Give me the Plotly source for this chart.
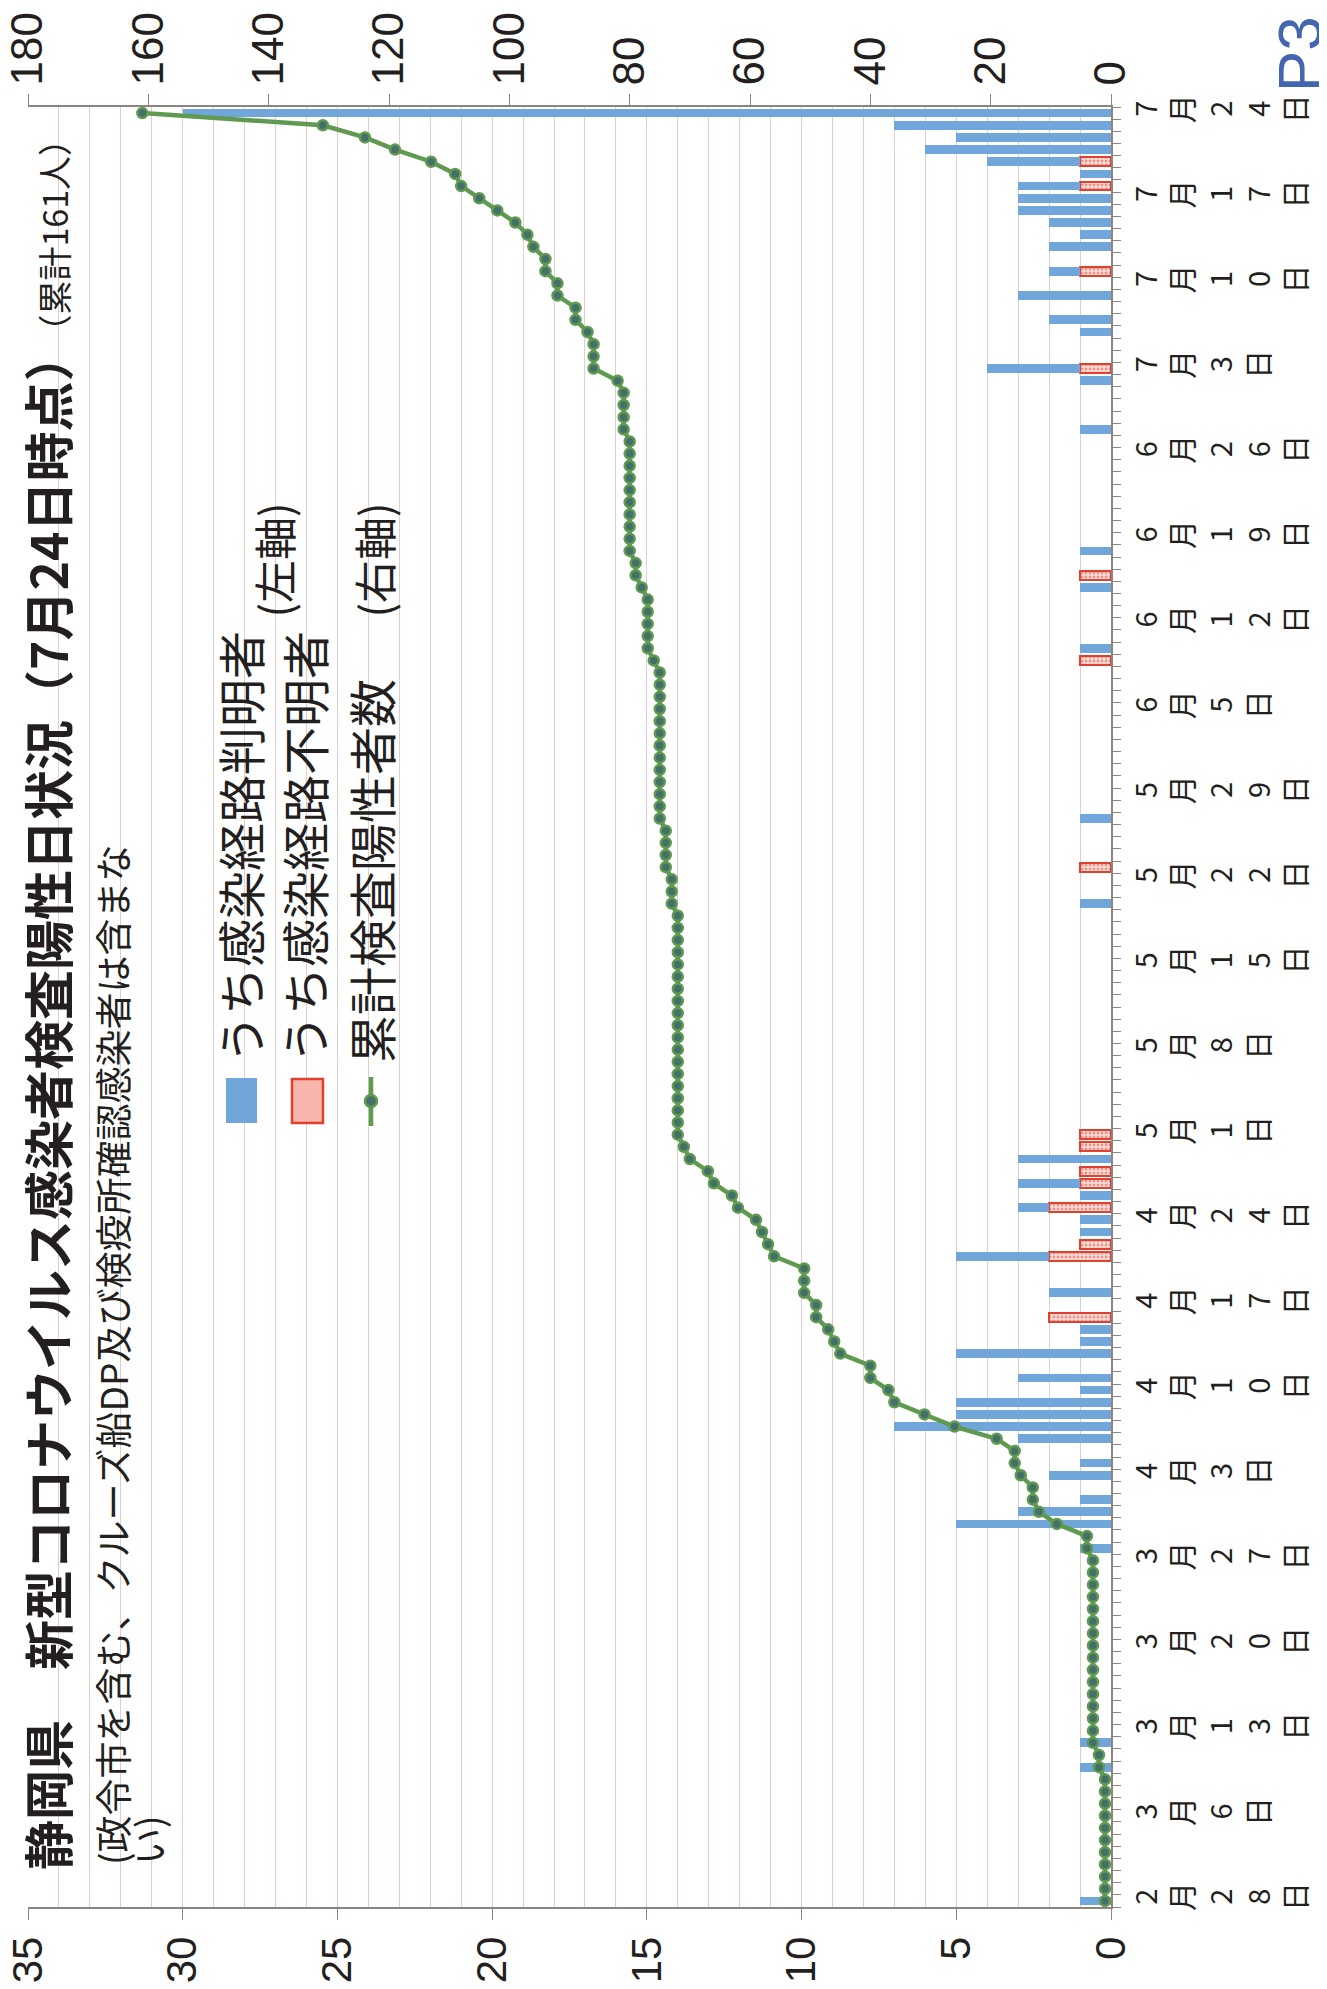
import plotly.graph_objects as go
import pandas as pd

# ---------------- data ----------------
# new cases whose infection route is known (blue)
known_dates = ["2020-02-28", "2020-03-10", "2020-03-12", "2020-03-28", "2020-03-30", "2020-03-31",
               "2020-04-01", "2020-04-03", "2020-04-04", "2020-04-06", "2020-04-07", "2020-04-08", "2020-04-09",
               "2020-04-10", "2020-04-11", "2020-04-13", "2020-04-14", "2020-04-15", "2020-04-18", "2020-04-21",
               "2020-04-23", "2020-04-24", "2020-04-25", "2020-04-26", "2020-04-27", "2020-04-29",
               "2020-05-20", "2020-05-27", "2020-06-10", "2020-06-15", "2020-06-18", "2020-06-28",
               "2020-07-02", "2020-07-03", "2020-07-06", "2020-07-07", "2020-07-09", "2020-07-11", "2020-07-13",
               "2020-07-14", "2020-07-15", "2020-07-16", "2020-07-17", "2020-07-18", "2020-07-19", "2020-07-20",
               "2020-07-21", "2020-07-22", "2020-07-23", "2020-07-24"]
known_counts = [1, 1, 1, 1, 5, 3,
                1, 2, 1, 3, 7, 5, 5,
                1, 3, 5, 1, 1, 2, 3,
                1, 1, 1, 1, 2, 3,
                1, 1, 1, 1, 1, 1,
                1, 3, 1, 2, 3, 1, 2,
                1, 2, 3, 3, 2, 1, 3,
                6, 5, 7, 30]

# new cases whose infection route is unknown (red)
unknown_dates = ["2020-04-16", "2020-04-21", "2020-04-22", "2020-04-25", "2020-04-27", "2020-04-28",
                 "2020-04-30", "2020-05-01", "2020-05-23", "2020-06-09", "2020-06-16", "2020-07-03",
                 "2020-07-11", "2020-07-18", "2020-07-20"]
unknown_counts = [2, 2, 1, 2, 1, 1, 1, 1, 1, 1, 1, 1, 1, 1, 1]

# cumulative positives, one value per day 2/28 .. 7/24
cum_feb = [1, 1]
cum_mar = [1, 1, 1, 1, 1, 1, 1, 1, 1, 2, 2, 3, 3, 3, 3, 3, 3, 3, 3, 3, 3, 3, 3, 3, 3, 3, 3, 4, 4, 9, 12]
cum_apr = [13, 13, 15, 16, 16, 19, 26, 31, 36, 37, 40, 40, 45, 46, 47, 49, 49, 51, 51, 51,
           56, 57, 58, 59, 62, 63, 66, 67, 70, 71]
cum_may = [72, 72, 72, 72, 72, 72, 72, 72, 72, 72, 72, 72, 72, 72, 72, 72, 72, 72, 72,
           73, 73, 73, 74, 74, 74, 74, 75, 75, 75, 75, 75]
cum_jun = [75, 75, 75, 75, 75, 75, 75, 75, 76, 77, 77, 77, 77, 77, 78, 79, 79,
           80, 80, 80, 80, 80, 80, 80, 80, 80, 80, 81, 81, 81]
cum_jul = [81, 82, 86, 86, 86, 87, 89, 89, 92, 92, 94, 94, 96, 97, 99, 102, 105, 108, 109,
           113, 119, 124, 131, 161]
cumulative = cum_feb + cum_mar + cum_apr + cum_may + cum_jun + cum_jul
all_days = [d.strftime("%Y-%m-%d") for d in pd.date_range("2020-02-28", "2020-07-24", freq="D")]

# weekly category labels
label_dates = ["2020-02-28", "2020-03-06", "2020-03-13", "2020-03-20", "2020-03-27", "2020-04-03",
               "2020-04-10", "2020-04-17", "2020-04-24", "2020-05-01", "2020-05-08", "2020-05-15",
               "2020-05-22", "2020-05-29", "2020-06-05", "2020-06-12", "2020-06-19", "2020-06-26",
               "2020-07-03", "2020-07-10", "2020-07-17", "2020-07-24"]
label_names = ["2月28日", "3月6日", "3月13日", "3月20日", "3月27日", "4月3日", "4月10日", "4月17日",
               "4月24日", "5月1日", "5月8日", "5月15日", "5月22日", "5月29日", "6月5日", "6月12日",
               "6月19日", "6月26日", "7月3日", "7月10日", "7月17日", "7月24日"]

left_ticks = [0, 5, 10, 15, 20, 25, 30, 35]
right_ticks = [0, 20, 40, 60, 80, 100, 120, 140, 160, 180]

title_main = "静岡県　新型コロナウイルス感染者検査陽性日状況（7月24日時点）"
title_small = "（累計161人）"
subtitle1 = "(政令市を含む、クルーズ船DP及び検疫所確認感染者は含まな"
subtitle2 = "い)"
legend_names = ["うち感染経路判明者", "うち感染経路不明者", "累計検査陽性者数"]
axis_notes = ["(左軸)", "(右軸)"]

# ---------------- styling ----------------
OFF = 8                      # page body margin of the html document
W, H = 1327 - OFF, 1989 - OFF
L, R, T, B = 28, 1111, 107, 1907   # plot area in screen pixels
BLUE = "#71A6DB"
RED = "#E2402E"
GREEN = "#5F9A50"
MARK = "#43706A"
GRID = "#DCCFCF"
AX = "#8C8480"
TXT = "#231F20"
JP = "Noto Sans CJK JP"
DAY = 86400000


def px(x):
    return (x - L) / (R - L)


def py(y):
    return (B - y) / (B - T)


fig = go.Figure()
fig.add_trace(go.Bar(
    y=unknown_dates, x=unknown_counts, orientation="h", width=0.72 * DAY,
    marker=dict(color="#F8CFCA", line=dict(color=RED, width=2.5),
                pattern=dict(shape=".", fgcolor=RED, bgcolor="#FBE0DC", size=4, solidity=0.4)),
    name=legend_names[1], xaxis="x", yaxis="y"))
fig.add_trace(go.Bar(
    y=known_dates, x=known_counts, orientation="h", width=0.72 * DAY,
    marker=dict(color=BLUE, line=dict(width=0)),
    name=legend_names[0], xaxis="x", yaxis="y"))
fig.add_trace(go.Scatter(
    y=all_days, x=cumulative, mode="lines+markers", xaxis="x2", yaxis="y",
    line=dict(color=GREEN, width=4.5),
    marker=dict(size=10, color=MARK, line=dict(color=GREEN, width=2.5)),
    name=legend_names[2]))

yrange = ["2020-02-27 12:00", "2020-07-24 12:00"]
boundaries = [(pd.Timestamp(d) - pd.Timedelta(hours=12)).strftime("%Y-%m-%d %H:%M") for d in label_dates]
vert_labels = ["<br>".join(list(s)) for s in label_names]

fig.update_layout(
    width=W, height=H,
    margin=dict(l=L - OFF, r=W - (R - OFF), t=T - OFF, b=H - (B - OFF), pad=0),
    barmode="stack", bargap=0,
    plot_bgcolor="white", paper_bgcolor="white",
    showlegend=False,
    font=dict(family=JP, color=TXT),
    xaxis=dict(range=[35, 0], tickmode="array", tickvals=left_ticks, ticktext=[str(v) for v in left_ticks],
               tickangle=-90, ticks="outside", ticklen=11, tickcolor=AX, tickwidth=1,
               showline=True, linecolor=AX, linewidth=1.5, zeroline=False,
               showgrid=True, gridcolor=GRID, gridwidth=1,
               minor=dict(tickmode="linear", tick0=0, dtick=1, showgrid=True, gridcolor=GRID, gridwidth=1, ticks=""),
               tickfont=dict(family="Liberation Sans", size=42, color=TXT), anchor="y",
               automargin=False, ticklabeloverflow="allow"),
    xaxis2=dict(range=[180, 0], overlaying="x", side="top", anchor="y",
                tickmode="array", tickvals=right_ticks, ticktext=[str(v) for v in right_ticks],
                tickangle=-90, ticks="outside", ticklen=11, tickcolor=AX, tickwidth=1,
                showline=True, linecolor=AX, linewidth=1.5, zeroline=False, showgrid=False,
                tickfont=dict(family="Liberation Sans", size=44, color=TXT),
                automargin=False, ticklabeloverflow="allow"),
    yaxis=dict(type="date", range=yrange, side="right", anchor="x",
               tickmode="array", tickvals=label_dates, ticktext=vert_labels, tickangle=-90,
               ticks="", showline=True, linecolor=AX, linewidth=1.5, showgrid=False, zeroline=False,
               minor=dict(tickmode="linear", tick0=yrange[0], dtick=DAY, ticks="outside", ticklen=8,
                          tickcolor=AX, tickwidth=1, showgrid=False),
               tickfont=dict(family=JP, size=29, color=TXT), ticklabelstandoff=9,
               automargin=False, ticklabeloverflow="allow"),
    yaxis2=dict(type="date", range=yrange, overlaying="y", side="right", anchor="x",
                tickmode="array", tickvals=boundaries, ticks="inside", ticklen=10, tickcolor=AX,
                tickwidth=1, showticklabels=False, showline=False, showgrid=False, zeroline=False,
                automargin=False),
)

# legend box and swatches (rotated legend drawn by hand)
shapes = [
    dict(type="rect", xref="paper", yref="paper", x0=px(211), x1=px(404), y0=py(1136), y1=py(624),
         fillcolor="white", line=dict(width=0), layer="between"),
    dict(type="rect", xref="paper", yref="paper", x0=px(226), x1=px(257), y0=py(1123), y1=py(1078),
         fillcolor=BLUE, line=dict(width=0), layer="above"),
    dict(type="rect", xref="paper", yref="paper", x0=px(292), x1=px(323), y0=py(1123), y1=py(1079),
         fillcolor="#F6B5AD", line=dict(color=RED, width=2.5), layer="above"),
    dict(type="line", xref="paper", yref="paper", x0=px(371), x1=px(371), y0=py(1126), y1=py(1077),
         line=dict(color=GREEN, width=4.5), layer="above"),
    dict(type="circle", xref="paper", yref="paper", x0=px(365), x1=px(377), y0=py(1107), y1=py(1095),
         fillcolor=MARK, line=dict(color=GREEN, width=2.5), layer="above"),
]
fig.update_layout(shapes=shapes)

ann = []
ann.append(dict(text="<b>" + title_main + "</b><span style='font-size:34px'>" + title_small + "</span>",
                x=px(46), y=py(1872), xref="paper", yref="paper", xanchor="center", yanchor="bottom",
                textangle=-90, showarrow=False, font=dict(family=JP, size=50, color=TXT)))
ann.append(dict(text=subtitle1, x=px(112), y=py(1867), xref="paper", yref="paper",
                xanchor="center", yanchor="bottom", textangle=-90, showarrow=False,
                font=dict(family=JP, size=37, color=TXT)))
ann.append(dict(text=subtitle2, x=px(148), y=py(1867), xref="paper", yref="paper",
                xanchor="center", yanchor="bottom", textangle=-90, showarrow=False,
                font=dict(family=JP, size=37, color=TXT)))
for name, xc in zip(legend_names, [239, 303, 370]):
    ann.append(dict(text=name, x=px(xc), y=py(1065), xref="paper", yref="paper",
                    xanchor="center", yanchor="bottom", textangle=-90, showarrow=False,
                    font=dict(family=JP, size=48, color=TXT)))
for note, xc in zip(axis_notes, [272, 372]):
    ann.append(dict(text=note, x=px(xc), y=py(501), xref="paper", yref="paper",
                    xanchor="center", yanchor="top", textangle=-90, showarrow=False,
                    font=dict(family=JP, size=43, color=TXT)))
ann.append(dict(text="P3", x=px(1299), y=py(54), xref="paper", yref="paper",
                xanchor="center", yanchor="middle", textangle=-90, showarrow=False,
                font=dict(family="Liberation Sans", size=62, color="#4466B0")))
fig.update_layout(annotations=ann)

fig.write_html("out.html")
